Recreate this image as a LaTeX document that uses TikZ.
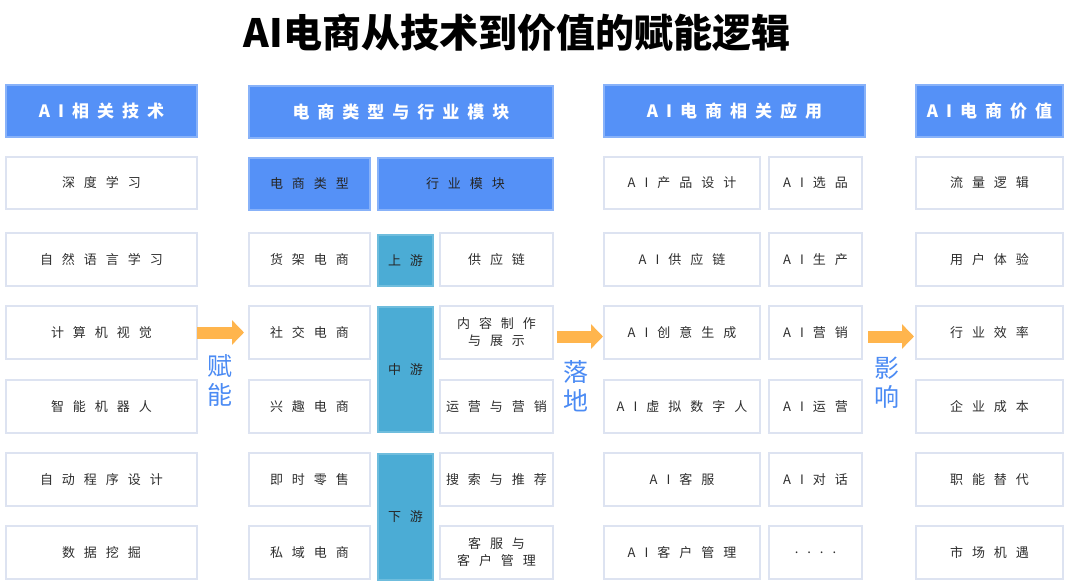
\documentclass[tikz,border=0pt]{standalone}
\usepackage{fontspec}
\setmainfont{Noto Sans CJK SC}
\usetikzlibrary{arrows.meta}
\definecolor{hdr}{HTML}{5591F7}
\definecolor{tealb}{HTML}{4BACD5}
\definecolor{lblblue}{HTML}{4B8BF4}
\definecolor{orng}{HTML}{FFB54D}
\definecolor{bord}{HTML}{DDE3F1}
\definecolor{txt}{HTML}{2E2E2E}
\def\SPend{}
\def\SPg#1#2{\def\spg{#1}\SPa#2\SPend}
\def\SPa#1#2\SPend{#1\ifx\SPend#2\SPend\else\kern\spg\SPa#2\SPend\fi}
\newcommand\SP[1]{\SPg{9pt}{#1}}
\newcommand\SPH[1]{\SPg{8pt}{#1}}
\newcommand\bx[7]{\node[#6, minimum width={#4-#2}, minimum height={#5-#3}] (#1) at ({(#2+#4)/2},{(#3+#5)/2}) {#7};}
\tikzset{
  box/.style={draw=bord, line width=1.2pt, fill=white, inner sep=0pt, outer sep=0pt, text=txt,
    font=\fontsize{13}{17}\selectfont, align=center},
  hdrbox/.style={box, fill=hdr, draw=hdr!70!white, text=white, font=\bfseries\fontsize{17}{20}\selectfont},
  subbox/.style={box, fill=hdr, draw=hdr!70!white, text=black!85},
  tealbox/.style={box, fill=tealb, draw=tealb!80!white, text=black!85},
  fat/.style={draw=orng, line width=12pt, -{Triangle[length=12pt,width=24pt]}},
  lbl/.style={text=lblblue, font=\fontsize{25}{29}\selectfont, align=center, inner sep=0pt},
}
\begin{document}
\begin{tikzpicture}[x=1pt,y=-1pt]
\useasboundingbox (0,0) rectangle (1080,586);
\fill[white] (0,0) rectangle (1080,586);
\node[font=\bfseries\fontsize{39}{45}\selectfont, text=black] (title) at (517,33) {AI电商从技术到价值的赋能逻辑};
% column 1
\bx{c1h}{6}{85}{197}{137}{hdrbox}{\SPH{AI相关技术}}
\bx{c1a}{6}{157}{197}{209}{box}{\SP{深度学习}}
\bx{c1b}{6}{233}{197}{286}{box}{\SP{自然语言学习}}
\bx{c1c}{6}{306}{197}{359}{box}{\SP{计算机视觉}}
\bx{c1d}{6}{380}{197}{433}{box}{\SP{智能机器人}}
\bx{c1e}{6}{453}{197}{506}{box}{\SP{自动程序设计}}
\bx{c1f}{6}{526}{197}{579}{box}{\SP{数据挖掘}}
% column 2
\bx{c2h}{249}{86}{553}{138}{hdrbox}{\SPH{电商类型与行业模块}}
\bx{c2t}{249}{158}{370}{210}{subbox}{\SP{电商类型}}
\bx{c2m}{378}{158}{553}{210}{subbox}{\SP{行业模块}}
\bx{c2b}{249}{233}{370}{286}{box}{\SP{货架电商}}
\bx{c2c}{249}{306}{370}{359}{box}{\SP{社交电商}}
\bx{c2d}{249}{380}{370}{433}{box}{\SP{兴趣电商}}
\bx{c2e}{249}{453}{370}{506}{box}{\SP{即时零售}}
\bx{c2f}{249}{526}{370}{579}{box}{\SP{私域电商}}
\bx{up}{378}{235}{433}{286}{tealbox}{\SP{上游}}
\bx{mid}{378}{307}{433}{432}{tealbox}{\SP{中游}}
\bx{down}{378}{454}{433}{580}{tealbox}{\SP{下游}}
\bx{c2rb}{440}{233}{553}{286}{box}{\SP{供应链}}
\bx{c2rc}{440}{306}{553}{359}{box}{\SP{内容制作}\\\SP{与展示}}
\bx{c2rd}{440}{380}{553}{433}{box}{\SP{运营与营销}}
\bx{c2re}{440}{453}{553}{506}{box}{\SP{搜索与推荐}}
\bx{c2rf}{440}{526}{553}{579}{box}{\SP{客服与}\\\SP{客户管理}}
% column 3
\bx{c3h}{604}{85}{865}{137}{hdrbox}{\SPH{AI电商相关应用}}
\bx{c3a}{604}{157}{760}{209}{box}{\SP{AI产品设计}}
\bx{c3b}{604}{233}{760}{286}{box}{\SP{AI供应链}}
\bx{c3c}{604}{306}{760}{359}{box}{\SP{AI创意生成}}
\bx{c3d}{604}{380}{760}{433}{box}{\SP{AI虚拟数字人}}
\bx{c3e}{604}{453}{760}{506}{box}{\SP{AI客服}}
\bx{c3f}{604}{526}{760}{579}{box}{\SP{AI客户管理}}
\bx{c3ra}{769}{157}{862}{209}{box}{\SP{AI选品}}
\bx{c3rb}{769}{233}{862}{286}{box}{\SP{AI生产}}
\bx{c3rc}{769}{306}{862}{359}{box}{\SP{AI营销}}
\bx{c3rd}{769}{380}{862}{433}{box}{\SP{AI运营}}
\bx{c3re}{769}{453}{862}{506}{box}{\SP{AI对话}}
\bx{c3rf}{769}{526}{862}{579}{box}{\raisebox{-3pt}{\SP{....}}}
% column 4
\bx{c4h}{916}{85}{1063}{137}{hdrbox}{\SPH{AI电商价值}}
\bx{c4a}{916}{157}{1063}{209}{box}{\SP{流量逻辑}}
\bx{c4b}{916}{233}{1063}{286}{box}{\SP{用户体验}}
\bx{c4c}{916}{306}{1063}{359}{box}{\SP{行业效率}}
\bx{c4d}{916}{380}{1063}{433}{box}{\SP{企业成本}}
\bx{c4e}{916}{453}{1063}{506}{box}{\SP{职能替代}}
\bx{c4f}{916}{526}{1063}{579}{box}{\SP{市场机遇}}
% arrows
\draw[fat] (c1c.east) -- ([xshift=-5pt]c2c.west);
\draw[fat] ([xshift=4pt,yshift=-4pt]c2rc.east) -- ([xshift=-1pt,yshift=-4pt]c3c.west);
\draw[fat] ([xshift=6pt,yshift=-4pt]c3rc.east) -- ([xshift=-2pt,yshift=-4pt]c4c.west);
% labels
\node[lbl] (l1) at (220,380) {赋\\能};
\node[lbl] (l2) at (576,386) {落\\地};
\node[lbl] (l3) at (887,383) {影\\响};
\end{tikzpicture}
\end{document}
